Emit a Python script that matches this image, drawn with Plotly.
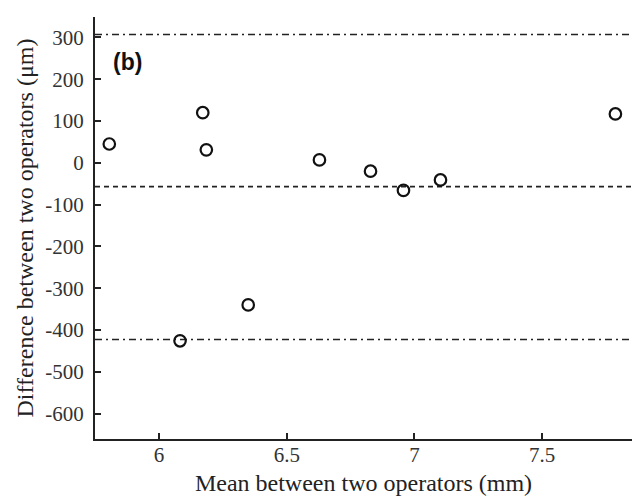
import plotly.graph_objects as go

mean_mm = [5.805, 6.171, 6.185, 6.082, 6.349, 6.628, 6.828, 6.957, 7.102, 7.787]
diff_um = [45, 120, 31, -426, -340, 7, -20, -66, -41, 117]

mean_diff = -57
upper_loa = 307
lower_loa = -423

x_ticks = [6, 6.5, 7, 7.5]
x_tick_text = ["6", "6.5", "7", "7.5"]
y_ticks = [300, 200, 100, 0, -100, -200, -300, -400, -500, -600]
y_tick_text = ["300", "200", "100", "0", "-100", "-200", "-300", "-400", "-500", "-600"]

x_range = [5.749, 7.852]
y_range = [-661, 349]

fig = go.Figure()

line_color = "#222222"
for yv, dash in [(upper_loa, "7px,4px,2px,4px"), (mean_diff, "5px,4px"), (lower_loa, "7px,4px,2px,4px")]:
    fig.add_trace(go.Scatter(
        x=x_range, y=[yv, yv], mode="lines",
        line=dict(color=line_color, width=1.6, dash=dash),
        hoverinfo="skip", showlegend=False, cliponaxis=False,
    ))

fig.add_trace(go.Scatter(
    x=mean_mm, y=diff_um, mode="markers",
    marker=dict(symbol="circle-open", size=11.5, color="#111111", line=dict(width=2.2, color="#111111")),
    showlegend=False, cliponaxis=False,
))

serif = "Liberation Serif"

fig.update_layout(
    width=636, height=496,
    margin=dict(l=95, r=4, t=17, b=57),
    paper_bgcolor="white", plot_bgcolor="white",
    font=dict(family=serif, color="#222222"),
    xaxis=dict(
        range=x_range, tickvals=x_ticks, ticktext=x_tick_text,
        ticks="inside", ticklen=6, tickwidth=1.5, tickcolor="#222222",
        showline=True, linecolor="#222222", linewidth=2,
        showgrid=False, zeroline=False, mirror=False,
        tickfont=dict(family=serif, size=21, color="#333333"),
        ticklabelstandoff=-4,
        title=dict(text="Mean between two operators (mm)", font=dict(family=serif, size=24, color="#222222"), standoff=8),
    ),
    yaxis=dict(
        range=y_range, tickvals=y_ticks, ticktext=y_tick_text,
        ticks="inside", ticklen=6, tickwidth=1.5, tickcolor="#222222",
        showline=True, linecolor="#222222", linewidth=2,
        showgrid=False, zeroline=False, mirror=False,
        tickfont=dict(family=serif, size=21, color="#333333"),
        ticklabelstandoff=5,
        title=dict(text="Difference between two operators (μm)", font=dict(family=serif, size=24, color="#222222"), standoff=5),
    ),
    annotations=[dict(
        text="<b>(b)</b>", x=0.06, y=0.893, xref="paper", yref="paper",
        xanchor="center", yanchor="middle", showarrow=False,
        font=dict(family="Liberation Sans", size=23, color="#111111"),
    )],
)

fig.write_html(
    "out.html",
    config={"displayModeBar": False},
    post_script="document.body.style.margin='0';document.body.style.overflow='hidden';",
)
